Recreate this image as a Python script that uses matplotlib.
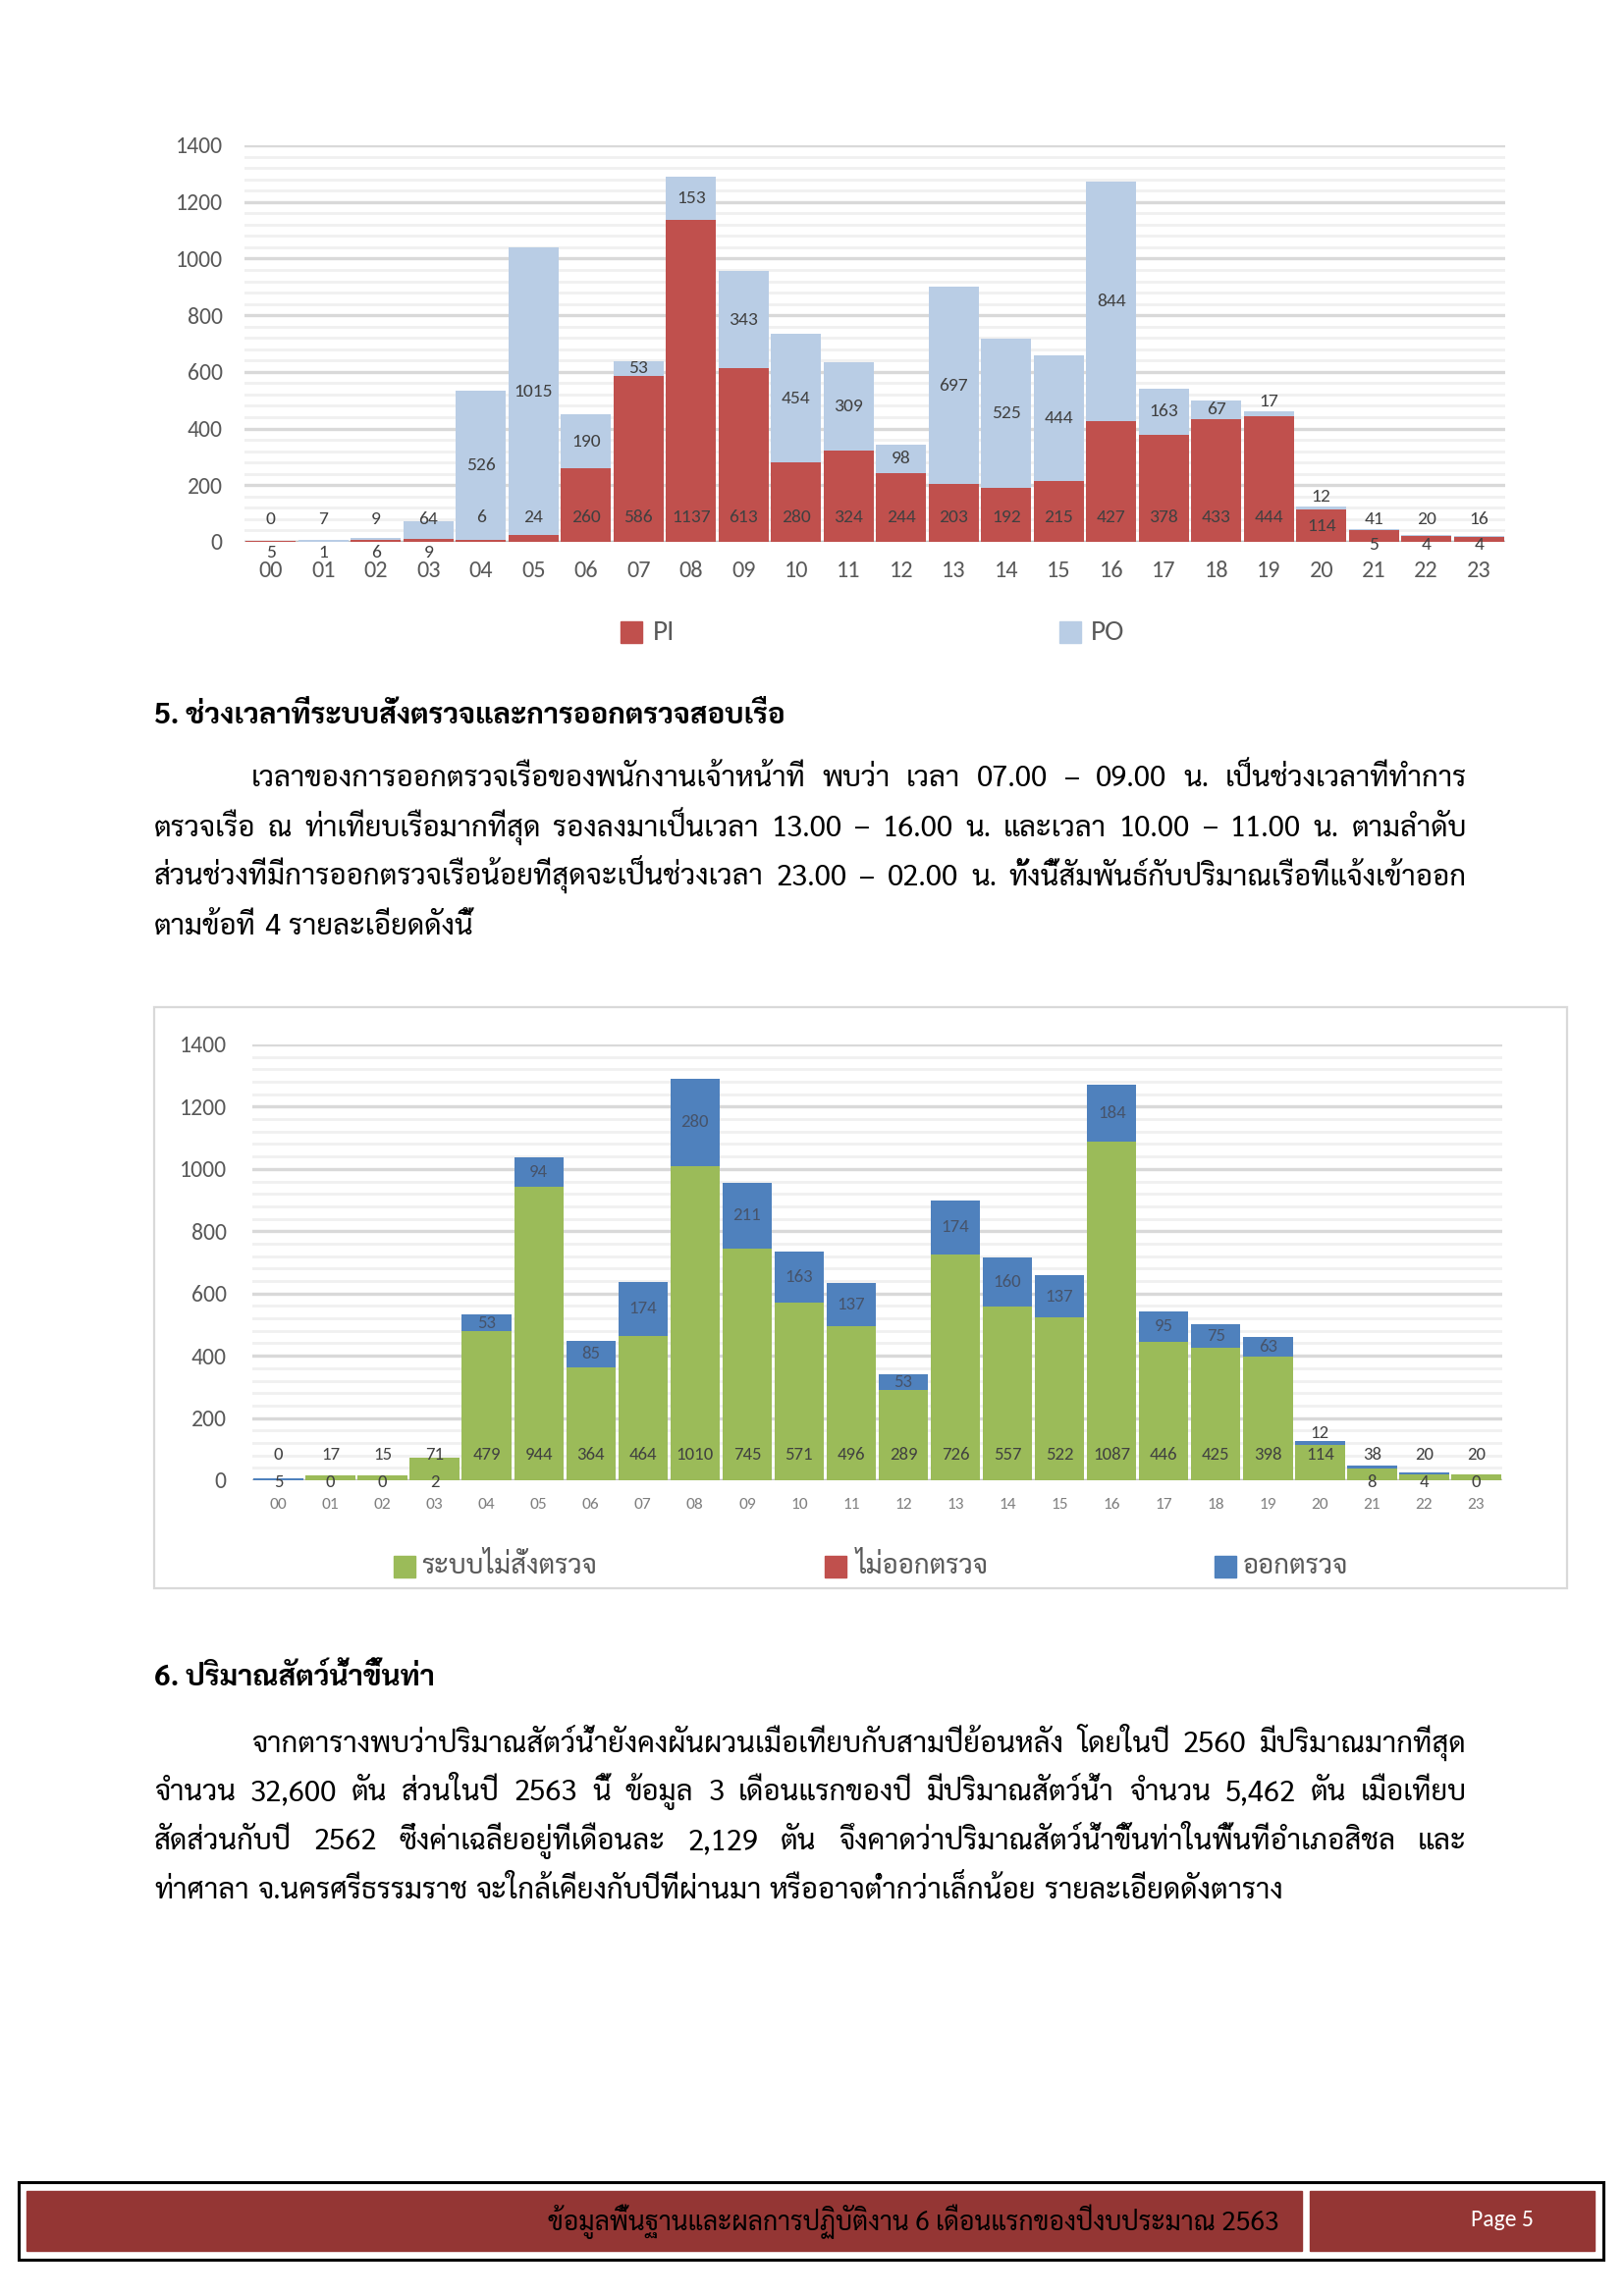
import matplotlib
matplotlib.use("Agg")
import matplotlib.pyplot as plt
from matplotlib.patches import Rectangle

# ---- data -------------------------------------------------------------
hours = ["%02d" % h for h in range(24)]

# chart 1 : ships reported in (PI) / out (PO) per hour
pi_ships = [5, 1, 6, 9, 6, 24, 260, 586, 1137, 613, 280, 324,
            244, 203, 192, 215, 427, 378, 433, 444, 114, 41, 20, 16]
po_ships = [0, 7, 9, 64, 526, 1015, 190, 53, 153, 343, 454, 309,
            98, 697, 525, 444, 844, 163, 67, 17, 12, 5, 4, 4]

# chart 2 : inspection order / inspection done per hour
not_ordered = [0, 17, 15, 71, 479, 944, 364, 464, 1010, 745, 571, 496,
               289, 726, 557, 522, 1087, 446, 425, 398, 114, 38, 20, 20]
not_inspected = [0] * 24
inspected = [5, 0, 0, 2, 53, 94, 85, 174, 280, 211, 163, 137,
             53, 174, 160, 137, 184, 95, 75, 63, 12, 8, 4, 0]

legend1 = ["PI", "PO"]
legend2 = ["ระบบไม่สั่งตรวจ", "ไม่ออกตรวจ", "ออกตรวจ"]

head5 = "5. ช่วงเวลาที่ระบบสั่งตรวจและการออกตรวจสอบเรือ"
para5 = ["เวลาของการออกตรวจเรือของพนักงานเจ้าหน้าที่ พบว่า เวลา 07.00 – 09.00 น. เป็นช่วงเวลาที่ทำการ",
         "ตรวจเรือ ณ ท่าเทียบเรือมากที่สุด รองลงมาเป็นเวลา 13.00 – 16.00 น. และเวลา 10.00 – 11.00 น. ตามลำดับ",
         "ส่วนช่วงที่มีการออกตรวจเรือน้อยที่สุดจะเป็นช่วงเวลา 23.00 – 02.00 น. ทั้งนี้สัมพันธ์กับปริมาณเรือที่แจ้งเข้าออก",
         "ตามข้อที่ 4 รายละเอียดดังนี้"]
head6 = "6. ปริมาณสัตว์น้ำขึ้นท่า"
para6 = ["จากตารางพบว่าปริมาณสัตว์น้ำยังคงผันผวนเมื่อเทียบกับสามปีย้อนหลัง โดยในปี 2560 มีปริมาณมากที่สุด",
         "จำนวน 32,600 ตัน ส่วนในปี 2563 นี้ ข้อมูล 3 เดือนแรกของปี มีปริมาณสัตว์น้ำ จำนวน 5,462 ตัน เมื่อเทียบ",
         "สัดส่วนกับปี 2562 ซึ่งค่าเฉลี่ยอยู่ที่เดือนละ 2,129 ตัน จึงคาดว่าปริมาณสัตว์น้ำขึ้นท่าในพื้นที่อำเภอสิชล และ",
         "ท่าศาลา จ.นครศรีธรรมราช จะใกล้เคียงกับปีที่ผ่านมา หรืออาจต่ำกว่าเล็กน้อย รายละเอียดดังตาราง"]
footer = "ข้อมูลพื้นฐานและผลการปฏิบัติงาน 6 เดือนแรกของปีงบประมาณ 2563"
page = "Page 5"

# ---- style ------------------------------------------------------------
W, H = 1654, 2339
num_font = ["Carlito", "Lato", "DejaVu Sans"]
thai_font = ["Sarabun", "Noto Sans Thai", "DejaVu Sans"]
RED, LBLUE, GREEN, BLUE = "#C0504D", "#B9CDE5", "#9BBB59", "#4F81BD"

fig = plt.figure(figsize=(W / 100, H / 100), dpi=100)
renderer = fig.canvas.get_renderer()


def fx(px):
    return px / W


def fy(py):
    return 1 - py / H


def text_width(s, size, weight="normal"):
    t = fig.text(0, 0, s, fontsize=size, family=thai_font, weight=weight)
    w = t.get_window_extent(renderer).width
    t.remove()
    return w


def fit(s, target, weight="normal"):
    return 20 * target / text_width(s, 20, weight)


def put_line(s, y, x0, x1, size, justify=True):
    words = s.split(" ")
    arts = [fig.text(0, fy(y), w, fontsize=size, family=thai_font,
                     va="baseline", ha="left", color="black") for w in words]
    widths = [a.get_window_extent(renderer).width for a in arts]
    if justify and len(words) > 1:
        gap = (x1 - x0 - sum(widths)) / (len(words) - 1)
    else:
        gap = size * 100 / 72 * 0.28
    x = x0
    for a, w in zip(arts, widths):
        a.set_x(fx(x))
        x += w + gap


def key(cx, cy, color, label, tx, size, family, tcolor):
    fig.patches.append(Rectangle((fx(cx - 11), fy(cy + 11)), 22 / W, 22 / H,
                                 transform=fig.transFigure, color=color))
    fig.text(fx(tx), fy(cy), label, fontsize=size, family=family,
             color=tcolor, va="center", ha="left")


def style_axes(ax, xpad, ypad, xsize, xcolor):
    ax.set_xlim(-0.5, 23.5)
    ax.set_ylim(0, 1400)
    ax.set_yticks(range(0, 1401, 200))
    ax.set_yticks(range(0, 1401, 40), minor=True)
    ax.set_xticks(range(24), hours)
    ax.grid(which="major", axis="y", color="#D9D9D9", lw=2.4)
    ax.grid(which="minor", axis="y", color="#F0F0F0", lw=2.0)
    ax.set_axisbelow(True)
    for s in ax.spines.values():
        s.set_visible(False)
    ax.axhline(0, color="#BFBFBF", lw=2.5, zorder=1.5)
    ax.tick_params(which="both", length=0)
    ax.tick_params(axis="y", pad=ypad, labelsize=17, labelcolor="#595959")
    ax.tick_params(axis="x", pad=xpad, labelsize=xsize, labelcolor=xcolor)
    for lab in ax.get_xticklabels() + ax.get_yticklabels():
        lab.set_family(num_font)


# ---- chart 1 ----------------------------------------------------------
ax1 = fig.add_axes([fx(249), fy(552), 1284 / W, 404 / H])
x = list(range(24))
ax1.bar(x, pi_ships, width=0.96, color=RED, zorder=2)
ax1.bar(x, po_ships, width=0.96, bottom=pi_ships, color=LBLUE, zorder=2)
style_axes(ax1, 14, 16, 17.5, "#595959")

lab = dict(ha="center", va="center", fontsize=14, family=num_font, color="#404040")
for i in x:
    a, b = pi_ships[i], po_ships[i]
    tot = a + b
    if tot >= 100:
        ya = 85 if (a >= 150 or a < 40) else a / 2
        ax1.text(i, ya, str(a), **lab)
        if b >= 40:
            ax1.text(i, a + b / 2, str(b), **lab)
        else:
            ax1.text(i, tot + 35, str(b), **lab)
    elif i < 12:
        ax1.text(i, 80, str(b), **lab)
        ax1.text(i, -38, str(a), **lab)
    else:
        ax1.text(i, 80, str(a), **lab)
        ax1.text(i, -12, str(b), **lab)

key(643, 644, RED, legend1[0], 665, 21, num_font, "#595959")
key(1090, 644, LBLUE, legend1[1], 1111, 21, num_font, "#595959")

# ---- headings and paragraphs -----------------------------------------
body_size = fit(para6[-1], 1146)
head_size = fit(head5, 643, "bold")
fig.text(fx(157), fy(737), head5, fontsize=head_size, family=thai_font,
         weight="bold", va="baseline")
for k, line in enumerate(para5):
    x0 = 256 if k == 0 else 157
    put_line(line, 801 + 50.5 * k, x0, 1494, body_size, justify=k < len(para5) - 1)

fig.text(fx(157), fy(1717), head6, fontsize=head_size, family=thai_font,
         weight="bold", va="baseline")
for k, line in enumerate(para6):
    x0 = 256 if k == 0 else 157
    put_line(line, 1785 + 49.5 * k, x0, 1494, body_size, justify=k < len(para6) - 1)

# ---- chart 2 ----------------------------------------------------------
fig.patches.append(Rectangle((fx(157), fy(1618)), (1596 - 157) / W, (1618 - 1026) / H,
                             transform=fig.transFigure, fill=False,
                             edgecolor="#D9D9D9", lw=1.6))
ax2 = fig.add_axes([fx(257), fy(1508), 1273 / W, 444 / H])
ax2.bar(x, not_ordered, width=0.95, color=GREEN, zorder=2)
base2 = [g + r for g, r in zip(not_ordered, not_inspected)]
ax2.bar(x, not_inspected, width=0.95, bottom=not_ordered, color=RED, zorder=2)
ax2.bar(x, inspected, width=0.95, bottom=base2, color=BLUE, zorder=2)
style_axes(ax2, 13, 19, 12.5, "#7F7F7F")

lab2 = dict(ha="center", va="center", fontsize=13.5, family=num_font, color="#404040")
for i in x:
    g, b = not_ordered[i], inspected[i]
    tot = base2[i] + b
    ax2.text(i, 81, str(g), **lab2)
    if b >= 40:
        ax2.text(i, base2[i] + b / 2, str(b), ha="center", va="center",
                 fontsize=13.5, family=num_font, color="#46536A")
    elif g >= 100:
        ax2.text(i, tot + 25, str(b), **lab2)
    else:
        ax2.text(i, -5, str(b), **lab2)

leg_size = fit(legend2[0], 179)
key(412, 1596, GREEN, legend2[0], 429, leg_size, thai_font, "#595959")
key(851, 1596, RED, legend2[1], 872, leg_size, thai_font, "#595959")
key(1248, 1596, BLUE, legend2[2], 1266, leg_size, thai_font, "#595959")

# ---- footer -----------------------------------------------------------
fig.patches.append(Rectangle((fx(19), fy(2302)), (1633 - 19) / W, (2302 - 2223) / H,
                             transform=fig.transFigure, fill=False,
                             edgecolor="black", lw=2.2))
fig.patches.append(Rectangle((fx(27), fy(2293)), (1326 - 27) / W, (2293 - 2232) / H,
                             transform=fig.transFigure, color="#943634"))
fig.patches.append(Rectangle((fx(1334), fy(2293)), (1624 - 1334) / W, (2293 - 2232) / H,
                             transform=fig.transFigure, color="#943634"))
foot_size = fit(footer, 744)
fig.text(fx(1303), fy(2263), footer, fontsize=foot_size, family=thai_font,
         color="black", ha="right", va="center")
fig.text(fx(1530), fy(2262), page, fontsize=17, family=num_font,
         color="white", ha="center", va="center")

fig.savefig("out.png", dpi=100)
